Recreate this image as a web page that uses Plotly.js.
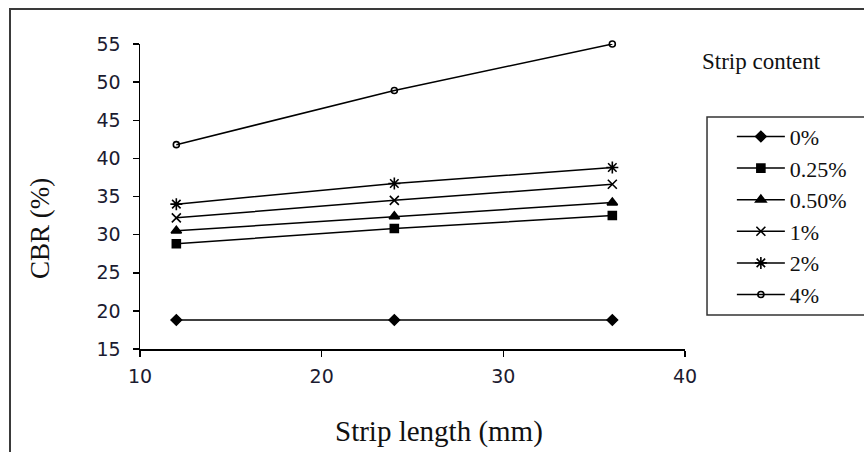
<!DOCTYPE html>
<html>
<head>
<meta charset="utf-8">
<script src="https://cdn.plot.ly/plotly-3.0.1.min.js"></script>
<style>
  html, body { margin: 0; padding: 0; background: #fff; overflow: hidden; width: 864px; height: 452px; }
  #frame { position: absolute; left: 9px; top: 8px; width: 900px; height: 500px; border: 2px solid #3a3a3a; box-sizing: border-box; }
  #chart { position: absolute; left: 0; top: 0; width: 864px; height: 452px; }
</style>
</head>
<body>
<div id="frame"></div>
<div id="chart"></div>
<script>
// Data
const stripLength = [12, 24, 36];
const seriesNames = ["0%", "0.25%", "0.50%", "1%", "2%", "4%"];
const cbr0 = [18.8, 18.8, 18.8];
const cbr025 = [28.8, 30.8, 32.5];
const cbr050 = [30.5, 32.4, 34.2];
const cbr1 = [32.2, 34.5, 36.6];
const cbr2 = [34.0, 36.7, 38.8];
const cbr4 = [41.8, 48.9, 55.0];
const xTicks = [10, 20, 30, 40];
const yTicks = [15, 20, 25, 30, 35, 40, 45, 50, 55];

const seriesValues = [cbr0, cbr025, cbr050, cbr1, cbr2, cbr4];
const symbols = ["diamond", "square", "triangle-up", "x-thin-open", "asterisk-open", "circle-open"];
const sizes = [8, 8, 9, 9, 10, 6];

const traces = seriesValues.map((vals, i) => ({
  x: stripLength,
  y: vals,
  name: seriesNames[i],
  type: "scatter",
  mode: "lines+markers",
  legendgroup: "g" + i,
  cliponaxis: false,
  line: { color: "#000", width: 1.5 },
  marker: { symbol: symbols[i], size: sizes[i], color: "#000", line: { color: "#000", width: 1.6 } }
}));

const serif = "Liberation Serif, Times New Roman, serif";
const sans = "DejaVu Sans, Verdana, sans-serif";

const layout = {
  width: 864, height: 452,
  margin: { l: 140, r: 179, t: 44, b: 103 },
  paper_bgcolor: "rgba(0,0,0,0)",
  plot_bgcolor: "rgba(0,0,0,0)",
  showlegend: true,
  legend: {
    x: 1.086, xanchor: "left", y: 0.765, yanchor: "top",
    bgcolor: "rgba(0,0,0,0)", borderwidth: 0,
    font: { family: serif, size: 22, color: "#111" },
    traceorder: "grouped", tracegroupgap: 0, itemwidth: 48
  },
  xaxis: {
    range: [10, 40], tickvals: xTicks, ticktext: xTicks.map(String),
    showgrid: false, zeroline: false, showline: true, linecolor: "#000", linewidth: 1.5,
    ticks: "outside", ticklen: 6, tickwidth: 1.5, tickcolor: "#000",
    tickfont: { family: sans, size: 19, color: "#1b1b30" }, ticklabelstandoff: 4
  },
  yaxis: {
    range: [15, 55], tickvals: yTicks, ticktext: yTicks.map(String),
    showgrid: false, zeroline: false, showline: true, linecolor: "#000", linewidth: 1.5,
    ticks: "outside", ticklen: 6, tickwidth: 1.5, tickcolor: "#000",
    tickfont: { family: sans, size: 19, color: "#1b1b30" }, ticklabelstandoff: 8
  },
  shapes: [
    { type: "rect", xref: "paper", yref: "paper", x0: 1.0404, x1: 1.36, y0: 0.1115, y1: 0.7607,
      line: { color: "#333", width: 1.5 }, fillcolor: "rgba(0,0,0,0)", layer: "below" }
  ],
  annotations: [
    { text: "Strip length (mm)", xref: "paper", yref: "paper", x: 0.549, y: -0.272,
      xanchor: "center", yanchor: "middle",
      showarrow: false, font: { family: serif, size: 29, color: "#111" } },
    { text: "CBR (%)", xref: "paper", yref: "paper", x: -0.1835, y: 0.397, textangle: -90,
      xanchor: "center", yanchor: "middle",
      showarrow: false, font: { family: serif, size: 27, color: "#111" } },
    { text: "Strip content", xref: "paper", yref: "paper", x: 1.141, y: 0.944,
      xanchor: "center", yanchor: "middle",
      showarrow: false, font: { family: serif, size: 23, color: "#111" } }
  ]
};

Plotly.newPlot("chart", traces, layout, { displayModeBar: false, staticPlot: true });
</script>
</body>
</html>
